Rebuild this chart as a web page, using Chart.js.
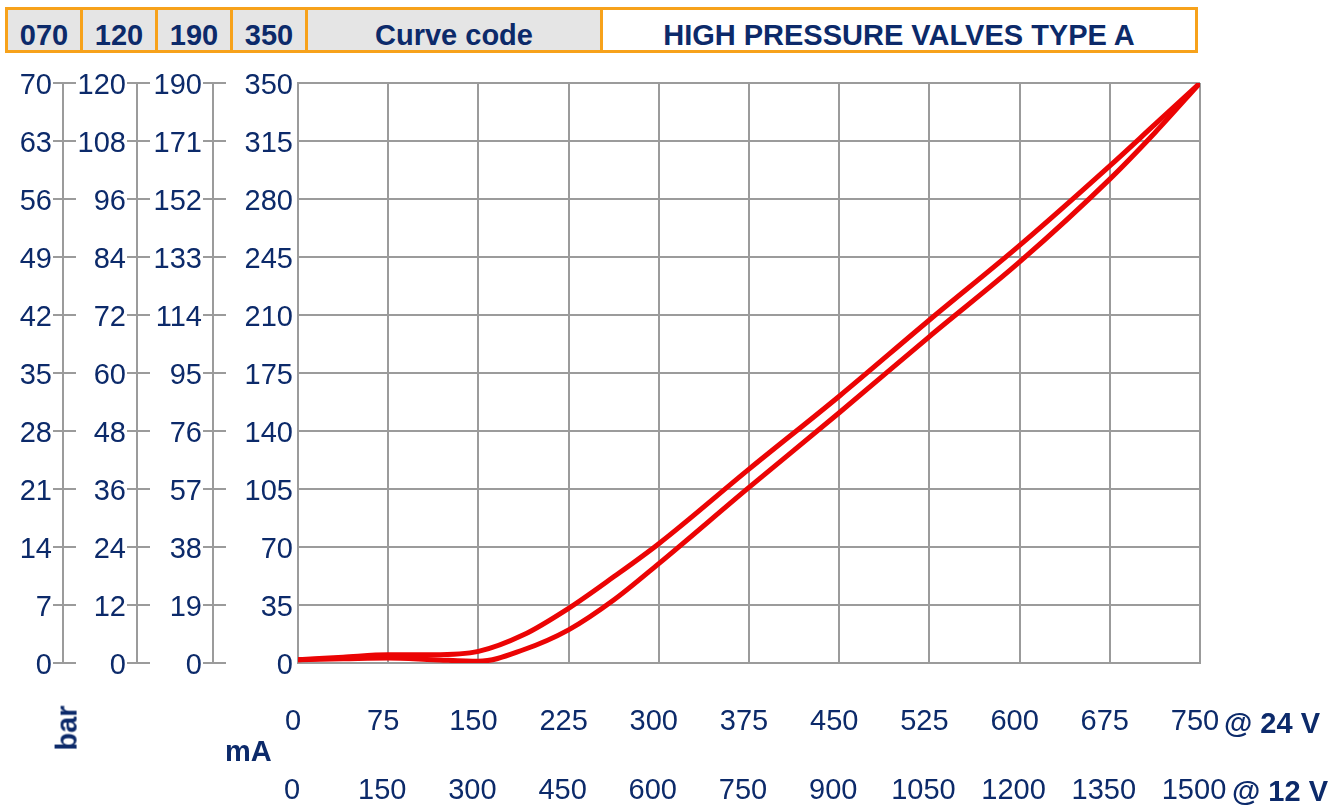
<!DOCTYPE html>
<html>
<head>
<meta charset="utf-8">
<title>High pressure valves type A</title>
<script src="https://cdn.jsdelivr.net/npm/chart.js@4.4.0/dist/chart.umd.min.js"></script>
<style>
  body { margin: 0; background: #fff; font-family: "Liberation Sans", Arial, sans-serif; color: #0c2a6a; }
  #wrap { position: relative; width: 1344px; height: 808px; overflow: hidden; }
  #chart { position: absolute; left: 0; top: 0; }
  .hbox {
    position: absolute; top: 7px; height: 46px; box-sizing: border-box;
    border: 3px solid #f7a21b; background: #e5e5e5;
    font-weight: bold; font-size: 29px; line-height: 50px; text-align: center;
  }
  .lab { position: absolute; font-weight: bold; font-size: 29px; line-height: 30px; white-space: nowrap; }
</style>
</head>
<body>
<div id="wrap">
  <canvas id="chart" width="1344" height="808"></canvas>

  <!-- kopf mit den kurvencodes -->
  <div class="hbox" style="left:5px;width:78px;">070</div>
  <div class="hbox" style="left:80px;width:78px;">120</div>
  <div class="hbox" style="left:155px;width:78px;">190</div>
  <div class="hbox" style="left:230px;width:78px;">350</div>
  <div class="hbox" style="left:305px;width:298px;">Curve code</div>
  <div class="hbox" style="left:600px;width:598px;background:#fff;">HIGH PRESSURE VALVES TYPE A</div>

  <div class="lab" style="left:44px;top:713px;transform:rotate(-90deg);">bar</div>
  <div class="lab" style="left:225px;top:736px;">mA</div>
  <div class="lab" style="left:1224px;top:708px;">@ 24 V</div>
  <div class="lab" style="left:1232px;top:776px;">@ 12 V</div>
</div>

<script>
// ── Daten ─────────────────────────────────────────────────────
// Strom bei 24 V (mA) und Druck in bar für Kurve 350
const currentMa24 = [0, 37.5, 75, 112.5, 150, 187.5, 225, 262.5, 300, 375, 450, 525, 600, 675, 712.5, 750];
const pressureDown = [2, 3.5, 5, 5, 7, 17, 33, 52, 72, 117, 161, 207, 252, 300, 325, 350];
const pressureUp   = [2, 2.5, 3, 2, 1, 8, 20, 38, 60, 106, 151, 197, 242, 292, 320, 350];

// Achsenbereiche
const xMax24 = 750,  xStep24 = 75;
const xMax12 = 1500, xStep12 = 150;
const yMax350 = 350, yStep350 = 35;
const yMax190 = 190, yStep190 = 19;
const yMax120 = 120, yStep120 = 12;
const yMax070 = 70,  yStep070 = 7;

const NAVY = "#0c2a6a";
const GRID = "#9b9b9b";
const RED  = "rgb(235,4,4)";
const tickFont = { family: "'Liberation Sans', Arial, sans-serif", size: 29 };

const toPoints = ys => currentMa24.map((x, i) => ({ x: x, y: ys[i] }));

// kleine striche rechts an den zusätzlichen achsen
const sideTicks = {
  id: "sideTicks",
  afterDraw(chart) {
    const ctx = chart.ctx;
    ctx.save();
    ctx.strokeStyle = GRID;
    ctx.lineWidth = 2;
    ["y070", "y120", "y190"].forEach(id => {
      const s = chart.scales[id];
      s.ticks.forEach((t, i) => {
        const y = Math.round(s.getPixelForTick(i));
        ctx.beginPath();
        ctx.moveTo(s.right, y);
        ctx.lineTo(s.right + 13, y);
        ctx.stroke();
      });
    });
    ctx.restore();
  }
};

function sideAxis(max, step, width, weight) {
  return {
    type: "linear", position: "left", weight: weight,
    min: 0, max: max,
    afterFit: s => { s.width = width; },
    ticks: { stepSize: step, autoSkip: false, color: NAVY, font: tickFont, padding: 1, labelOffset: 3 },
    grid: { drawOnChartArea: false, drawTicks: true, tickLength: 10, color: GRID, lineWidth: 2 },
    border: { display: true, color: GRID, width: 2 }
  };
}

new Chart(document.getElementById("chart"), {
  type: "line",
  data: {
    datasets: [
      { label: "down", data: toPoints(pressureDown), borderColor: RED, borderWidth: 5,
        pointRadius: 0, cubicInterpolationMode: "monotone", fill: false },
      { label: "up", data: toPoints(pressureUp), borderColor: RED, borderWidth: 5,
        pointRadius: 0, cubicInterpolationMode: "monotone", fill: false }
    ]
  },
  options: {
    responsive: false,
    animation: false,
    devicePixelRatio: 1,
    layout: { padding: { left: 0, right: 144, top: 83, bottom: 0 } },
    plugins: { legend: { display: false }, tooltip: { enabled: false } },
    scales: {
      x: {
        type: "linear", position: "bottom", weight: 0,
        min: 0, max: xMax24,
        afterFit: s => { s.height = 90; },
        ticks: { stepSize: xStep24, autoSkip: false, maxRotation: 0, color: NAVY, font: tickFont,
                 padding: 42, labelOffset: -5, callback: v => String(v) },
        grid: { color: GRID, lineWidth: 2, drawTicks: false },
        border: { display: true, color: GRID, width: 2 }
      },
      x12: {
        type: "linear", position: "bottom", weight: 1,
        min: 0, max: xMax12,
        afterFit: s => { s.height = 55; },
        ticks: { stepSize: xStep12, autoSkip: false, maxRotation: 0, color: NAVY, font: tickFont,
                 padding: 21, labelOffset: -6, callback: v => String(v) },
        grid: { display: false, drawTicks: false },
        border: { display: false }
      },
      y: {
        type: "linear", position: "left", weight: 0,
        min: 0, max: yMax350,
        afterFit: s => { s.width = 85; },
        ticks: { stepSize: yStep350, autoSkip: false, color: NAVY, font: tickFont, padding: 5, labelOffset: 3 },
        grid: { color: GRID, lineWidth: 2, drawTicks: false },
        border: { display: true, color: GRID, width: 2 }
      },
      y190: sideAxis(yMax190, yStep190, 76, 1),
      y120: sideAxis(yMax120, yStep120, 74, 2),
      y070: sideAxis(yMax070, yStep070, 63, 3)
    }
  },
  plugins: [sideTicks]
});
</script>
</body>
</html>
